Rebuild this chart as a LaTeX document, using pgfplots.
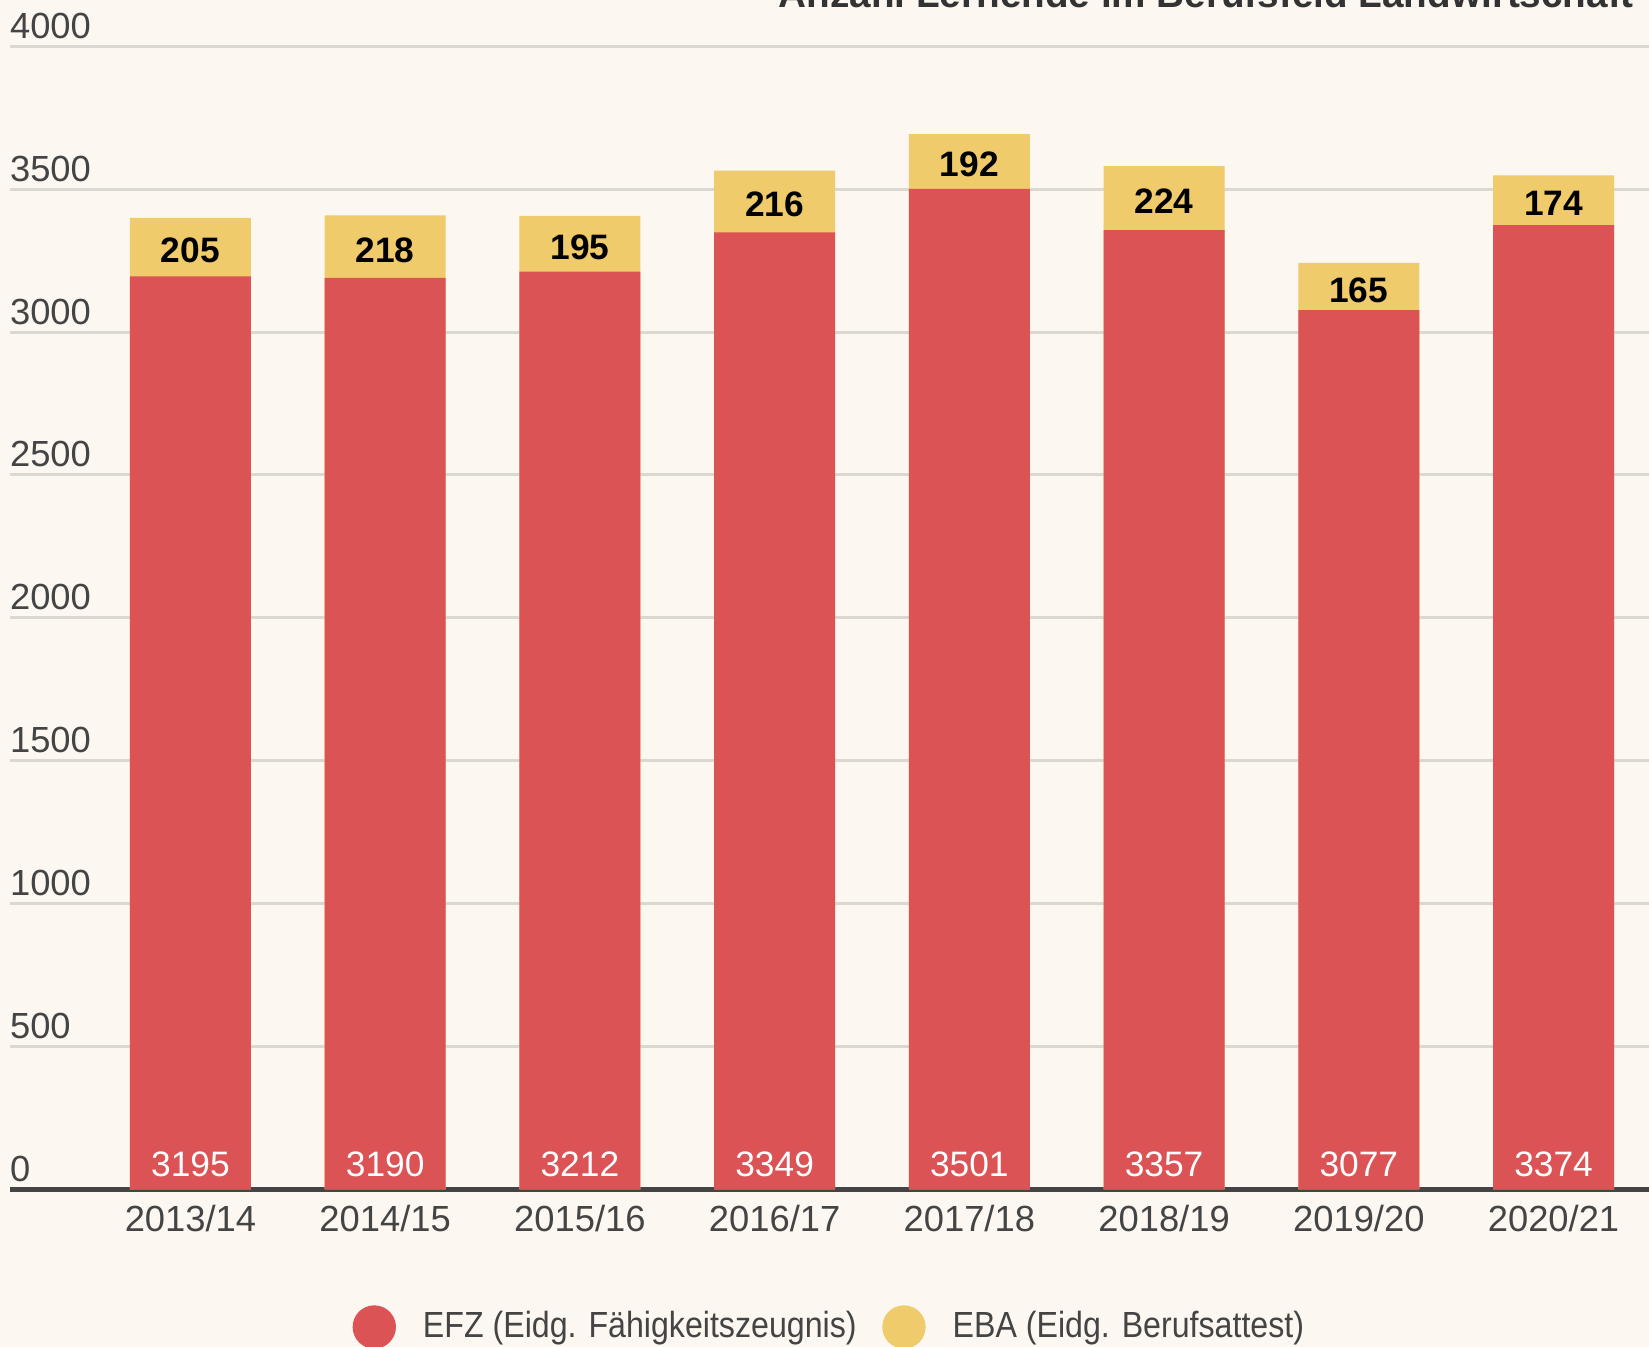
\documentclass[border=0pt]{standalone}
\usepackage{pgfplots}
\pgfplotsset{compat=1.18}
\usepackage{fontspec}
\setmainfont{Liberation Sans}
\newfontfamily\legfont[FakeStretch=0.885]{Liberation Sans}
\definecolor{bg}{HTML}{FCF8F1}
\definecolor{efz}{HTML}{DB5355}
\definecolor{eba}{HTML}{F0CB6B}
\definecolor{gridc}{HTML}{DBD8D1}
\definecolor{txt}{HTML}{444444}
\definecolor{titlec}{HTML}{333333}
\begin{document}
\begin{tikzpicture}[x=0.3pt,y=0.3pt]
\useasboundingbox (-10.5,-157.5) rectangle (1638.5,1189.5);
\clip (-10.5,-157.5) rectangle (1638.5,1189.5);
\fill[bg] (-10.5,-157.5) rectangle (1638.5,1189.5);
\node[anchor=base east, font=\fontsize{11.6pt}{13pt}\selectfont\bfseries, text=titlec, inner sep=0pt] at (1624,1181.5) {Anzahl Lernende im Berufsfeld Landwirtschaft};
\begin{axis}[
  at={(0,0)}, anchor=south west,
  scale only axis, width=491.55pt, height=342.96pt,
  xmin=-0.924, xmax=7.49, ymin=0, ymax=4000,
  axis x line=bottom, axis y line=left,
  x axis line style={-, draw=txt, line width=1.7pt},
  y axis line style={draw=none},
  tick style={draw=none},
  xtick={0,...,7},
  xticklabels={2013/14,2014/15,2015/16,2016/17,2017/18,2018/19,2019/20,2020/21},
  ytick={0,500,...,4000},
  yticklabels={0,500,1000,1500,2000,2500,3000,3500,4000},
  ymajorgrids, major grid style={draw=gridc, line width=0.9pt},
  ticklabel style={font=\fontsize{10.9pt}{13pt}\selectfont, text=txt, inner sep=0pt},
  yticklabel style={anchor=base west, xshift=1.8pt, yshift=2.4pt},
  xticklabel style={anchor=base, yshift=-10.6pt},
  legend style={at={(0.2084,-0.1203)}, anchor=west, draw=none, fill=none, inner sep=0pt,
    font=\legfont\fontsize{10.9pt}{13pt}\selectfont, text=txt, nodes={inner sep=0pt},
    /tikz/every odd column/.append style={column sep=8.1pt},
    /tikz/every even column/.append style={column sep=7.7pt}},
  legend columns=2, legend cell align=left,
]
\addplot[ybar, bar width=36.3pt, bar shift=0pt, fill=eba, draw=none, forget plot] coordinates {
 (0,3400) (1,3408) (2,3407) (3,3565) (4,3693) (5,3581) (6,3242) (7,3548)};
\addplot[ybar, bar width=36.3pt, bar shift=0pt, fill=efz, draw=none, forget plot] coordinates {
 (0,3195) (1,3190) (2,3212) (3,3349) (4,3501) (5,3357) (6,3077) (7,3374)};
\addplot[draw=none, mark=none, forget plot, nodes near coords, point meta=explicit symbolic,
  nodes near coords style={anchor=base, inner sep=0pt, yshift=3.84pt, text=white, font=\fontsize{10.6pt}{13pt}\selectfont}]
 coordinates {(0,0) [3195] (1,0) [3190] (2,0) [3212] (3,0) [3349] (4,0) [3501] (5,0) [3357] (6,0) [3077] (7,0) [3374]};
\addplot[draw=none, mark=none, forget plot, nodes near coords, point meta=explicit symbolic,
  nodes near coords style={anchor=center, inner sep=0pt, yshift=-1pt, text=black, font=\fontsize{10.6pt}{13pt}\selectfont\bfseries}]
 coordinates {(0,3297.5) [205] (1,3299) [218] (2,3309.5) [195] (3,3457) [216] (4,3597) [192] (5,3469) [224] (6,3159.5) [165] (7,3461) [174]};
\addlegendimage{legend image code/.code={\fill[efz] (0pt,0pt) circle (6.3pt);}}
\addlegendentry{EFZ (Eidg. Fähigkeitszeugnis)}
\addlegendimage{legend image code/.code={\fill[eba] (0pt,0pt) circle (6.3pt);}}
\addlegendentry{EBA (Eidg. Berufsattest)}
\end{axis}
\end{tikzpicture}
\end{document}
